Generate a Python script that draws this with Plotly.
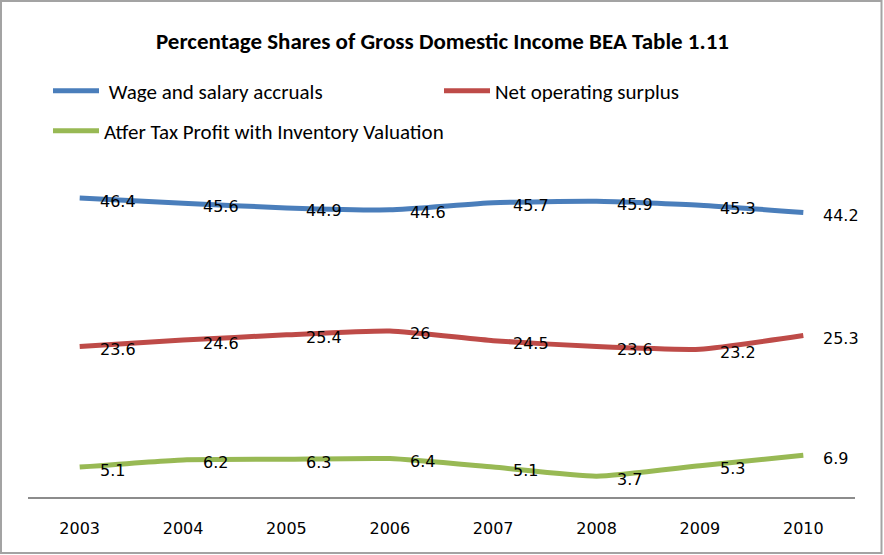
import plotly.graph_objects as go

years = ["2003", "2004", "2005", "2006", "2007", "2008", "2009", "2010"]
wages = [46.4, 45.6, 44.9, 44.6, 45.7, 45.9, 45.3, 44.2]
surplus = [23.6, 24.6, 25.4, 26, 24.5, 23.6, 23.2, 25.3]
profit = [5.1, 6.2, 6.3, 6.4, 5.1, 3.7, 5.3, 6.9]
labels_wages = ["46.4", "45.6", "44.9", "44.6", "45.7", "45.9", "45.3", "44.2"]
labels_surplus = ["23.6", "24.6", "25.4", "26", "24.5", "23.6", "23.2", "25.3"]
labels_profit = ["5.1", "6.2", "6.3", "6.4", "5.1", "3.7", "5.3", "6.9"]

series = [
    ("Wage and salary accruals", wages, labels_wages, "#4A7EBB", "legend"),
    ("Net operating surplus", surplus, labels_surplus, "#BE4B48", "legend"),
    ("Atfer Tax Profit with Inventory Valuation", profit, labels_profit, "#98B954", "legend2"),
]

W, H = 884, 555
L, R, T, B = 28, 29, 175, 58
pw = W - L - R
ph = H - T - B

def px(x):
    return (x - L) / pw

def py(y):
    return (H - B - y) / ph

LEGEND_FONT = "Carlito, Liberation Sans Narrow, Roboto, sans-serif"
LABEL_FONT = "DejaVu Sans, sans-serif"

fig = go.Figure()
annotations = []
for name, vals, labs, color, leg in series:
    fig.add_trace(go.Scatter(
        x=years, y=vals, name=(" " + name if name.startswith("Wage") else name),
        mode="lines",
        line=dict(color=color, width=5, shape="spline", smoothing=0.5),
        legend=leg,
        hoverinfo="skip",
    ))
    for i, (yv, t) in enumerate(zip(vals, labs)):
        annotations.append(dict(
            x=i, y=yv, text=t, showarrow=False, xref="x", yref="y",
            xanchor="left", yanchor="middle", xshift=18, yshift=-3,
            font=dict(family=LABEL_FONT, size=16, color="#000000"),
        ))

annotations.append(dict(
    text="<b>Percentage Shares of Gross Domestic Income BEA Table 1.11</b>",
    x=px(442), y=py(41), xref="paper", yref="paper", showarrow=False,
    xanchor="center", yanchor="middle",
    font=dict(family=LEGEND_FONT, size=23, color="#000000"),
))

fig.update_layout(
    width=W, height=H,
    margin=dict(l=L, r=R, t=T, b=B),
    paper_bgcolor="white", plot_bgcolor="white",
    showlegend=True,
    legend=dict(
        orientation="h", x=px(48), y=py(91), xanchor="left", yanchor="middle",
        itemwidth=46, entrywidth=330, entrywidthmode="pixels",
        font=dict(family=LEGEND_FONT, size=21, color="#000000"),
        bgcolor="rgba(0,0,0,0)",
    ),
    legend2=dict(
        orientation="h", x=px(48), y=py(131), xanchor="left", yanchor="middle",
        itemwidth=46,
        font=dict(family=LEGEND_FONT, size=21, color="#000000"),
        bgcolor="rgba(0,0,0,0)",
    ),
    xaxis=dict(
        type="category", range=[-0.5, 7.5],
        showline=True, linecolor="#8C8C8C", linewidth=2,
        showgrid=False, zeroline=False, ticks="",
        tickfont=dict(family=LABEL_FONT, size=16, color="#000000"),
        ticklabelstandoff=16,
    ),
    yaxis=dict(
        range=[0.5, 49.95], visible=False, showgrid=False, zeroline=False,
    ),
    annotations=annotations,
    shapes=[dict(
        type="rect", xref="paper", yref="paper",
        x0=px(1), x1=px(881.5), y0=py(553), y1=py(1),
        line=dict(color="#A3A3A3", width=2), fillcolor="rgba(0,0,0,0)",
    )],
)

fig.write_html("out.html", config={"displayModeBar": False})
with open("out.html", encoding="utf-8") as f:
    html = f.read()
html = html.replace("<head>", "<head><style>html,body{margin:0;padding:0;overflow:hidden;}</style>", 1)
with open("out.html", "w", encoding="utf-8") as f:
    f.write(html)
